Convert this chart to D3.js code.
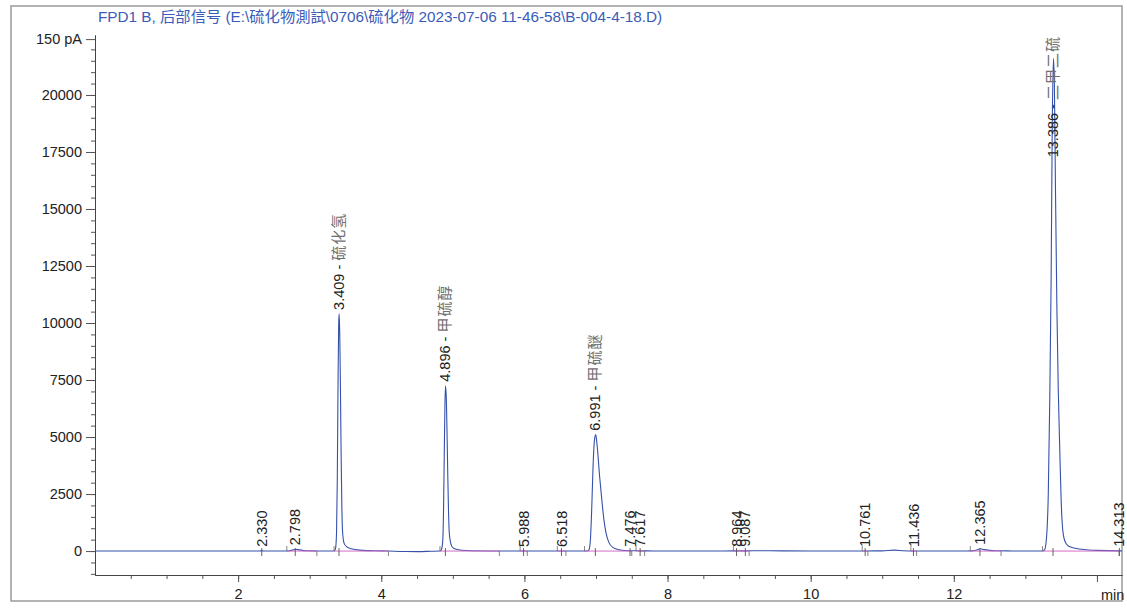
<!DOCTYPE html>
<html>
<head>
<meta charset="utf-8">
<script src="https://cdn.jsdelivr.net/npm/d3@7"></script>
<style>
  html, body { margin: 0; padding: 0; background: #fff; }
  svg { display: block; font-family: "Liberation Sans", Arial, "Noto Sans CJK SC", sans-serif; }
</style>
</head>
<body>
<svg id="chart" width="1127" height="609"></svg>
<script>
// ---------------- data ----------------
const titleText = "FPD1 B, 后部信号 (E:\\硫化物測試\\0706\\硫化物 2023-07-06 11-46-58\\B-004-4-18.D)";

// y axis ticks (signal) and labels
const yTickValues = [0, 2500, 5000, 7500, 10000, 12500, 15000, 17500, 20000, 22450];
const yTickLabels = ["0", "2500", "5000", "7500", "10000", "12500", "15000", "17500", "20000", "150 pA"];
const yMinorStep = 500;

// x axis ticks (minutes)
const xTickValues = [2, 4, 6, 8, 10, 12, 14];
const xTickLabels = ["2", "4", "6", "8", "10", "12", ""];
const xMinorStep = 0.5;
const xUnit = "min";

// chromatogram signal: [time (min), signal]
const signalTime = [
  0, 0.5, 1.0, 1.5, 2.0, 2.3, 2.33, 2.36, 2.6, 2.70, 2.76, 2.80, 2.86, 2.95, 3.1, 3.25,
  3.34, 3.36, 3.375, 3.385, 3.395, 3.405, 3.412, 3.42, 3.43, 3.44, 3.45, 3.46, 3.48, 3.52, 3.58, 3.7, 3.9,
  4.1, 4.3, 4.5, 4.7,
  4.82, 4.84, 4.86, 4.87, 4.88, 4.89, 4.898, 4.91, 4.92, 4.93, 4.94, 4.95, 4.97, 5.0, 5.06, 5.2,
  5.5, 5.8, 5.988, 6.2, 6.518, 6.7,
  6.88, 6.90, 6.92, 6.94, 6.96, 6.98, 6.995, 7.00, 7.02, 7.05, 7.08, 7.11, 7.14, 7.18, 7.24, 7.32,
  7.476, 7.617, 7.8, 8.2, 8.6, 8.964, 9.087, 9.3, 9.6, 10.0, 10.5, 10.761, 11.0, 11.17, 11.3, 11.436,
  11.8, 12.1, 12.25, 12.32, 12.37, 12.42, 12.5, 12.6, 12.8, 13.0, 13.2,
  13.24, 13.27, 13.30, 13.32, 13.34, 13.36, 13.375, 13.392, 13.405, 13.42, 13.44, 13.46, 13.48, 13.50,
  13.52, 13.55, 13.60, 13.70, 13.85, 14.0, 14.313, 14.35
];
const signalValue = [
  0, 0, 0, 0, 0, 5, 10, 5, 0, 5, 40, 80, 50, 15, 5, 0,
  0, 100, 800, 3000, 7000, 10000, 10400, 9500, 7000, 4000, 1800, 800, 350, 180, 100, 40, 15,
  5, -20, -25, -10,
  0, 60, 500, 1800, 4200, 6500, 7250, 6600, 5000, 3200, 1700, 800, 350, 150, 70, 25,
  5, 0, 5, 0, 5, 0,
  0, 40, 400, 1800, 3800, 4900, 5100, 5050, 4500, 3300, 2300, 1400, 800, 380, 150, 60,
  15, 10, 5, 0, 0, 10, 10, 15, 10, 0, 0, 5, 10, 40, 15, 5,
  0, 0, 10, 50, 100, 70, 30, 15, 5, 0, 0,
  0, 60, 800, 2500, 6500, 12000, 18500, 21600, 20500, 16000, 10700, 7000, 4500, 2200,
  1000, 450, 220, 120, 60, 30, 10, 10
];

// integrated peaks
const peakRT = [2.330, 2.798, 3.409, 4.896, 5.988, 6.518, 6.991, 7.476, 7.617, 8.964, 9.087, 10.761, 11.436, 12.365, 13.386, 14.313];
const peakHeight = [10, 80, 10400, 7250, 5, 5, 5100, 15, 10, 10, 10, 5, 5, 100, 21600, 10];
const peakName = ["", "", "硫化氢", "甲硫醇", "", "", "甲硫醚", "", "", "", "", "", "", "", "二甲二硫", ""];

// integration baselines (start / end, minutes)
const baseStart = [2.68, 3.34, 4.82, 5.94, 6.46, 6.84, 7.56, 8.92, 10.72, 11.40, 12.23, 13.24];
const baseEnd   = [3.10, 4.10, 5.65, 6.04, 6.58, 7.50, 7.68, 9.14, 10.80, 11.48, 12.66, 14.31];

// ---------------- drawing ----------------
const svg = d3.select("#chart");
const fontSize = 14.5;

const x = d3.scaleLinear().domain([0, 14.35]).range([95, 1122]);
const y = d3.scaleLinear().domain([-1050, 22630]).range([575, 35]);
const plotTop = y.range()[1];

// outer frame
svg.append("rect")
  .attr("x", 11).attr("y", 6).attr("width", 1111).attr("height", 595)
  .attr("fill", "none").attr("stroke", "#9a9a9a").attr("stroke-width", 1.5);

// title
svg.append("text")
  .attr("x", 98).attr("y", 22)
  .attr("font-size", 15.3).attr("fill", "#3a5cb8")
  .text(titleText);

// y axis minor ticks
const yMinor = d3.range(-1000, 22001, yMinorStep);
svg.append("g").attr("transform", `translate(${x(0)},0)`)
  .call(d3.axisLeft(y).tickValues(yMinor).tickSize(4).tickSizeOuter(0).tickFormat(""))
  .call(g => g.selectAll("line").attr("stroke", "#555"))
  .call(g => g.select(".domain").attr("stroke", "#444"));

// y axis major ticks
svg.append("g").attr("transform", `translate(${x(0)},0)`)
  .call(d3.axisLeft(y).tickValues(yTickValues).tickSize(9).tickSizeOuter(0).tickPadding(4)
    .tickFormat((d, i) => yTickLabels[i]))
  .call(g => g.select(".domain").attr("stroke", "#444"))
  .call(g => g.selectAll("line").attr("stroke", "#555"))
  .call(g => g.selectAll("text").attr("font-size", fontSize).attr("fill", "#222")
    .attr("font-family", "'Liberation Sans', Arial, sans-serif"));

// x axis minor ticks
const xMinor = d3.range(0.5, 14.3, xMinorStep);
svg.append("g").attr("transform", `translate(0,${y(-1050)})`)
  .call(d3.axisBottom(x).tickValues(xMinor).tickSize(4).tickSizeOuter(0).tickFormat(""))
  .call(g => g.selectAll("line").attr("stroke", "#555"))
  .call(g => g.select(".domain").attr("stroke", "#444"));

// x axis major ticks
svg.append("g").attr("transform", `translate(0,${y(-1050)})`)
  .call(d3.axisBottom(x).tickValues(xTickValues).tickSize(7).tickSizeOuter(0).tickPadding(7)
    .tickFormat((d, i) => xTickLabels[i]))
  .call(g => g.select(".domain").attr("stroke", "#444"))
  .call(g => g.selectAll("line").attr("stroke", "#555"))
  .call(g => g.selectAll("text").attr("font-size", fontSize).attr("fill", "#222")
    .attr("font-family", "'Liberation Sans', Arial, sans-serif"));

svg.append("text")
  .attr("x", x(14) + 4).attr("y", 599.5)
  .attr("font-size", fontSize).attr("fill", "#222")
  .text(xUnit);

// signal line
const signal = signalTime.map((t, i) => [t, signalValue[i]]);
const line = d3.line().x(d => x(d[0])).y(d => y(d[1])).curve(d3.curveMonotoneX);
svg.append("path")
  .datum(signal)
  .attr("d", line)
  .attr("fill", "none")
  .attr("stroke", "#3551aa")
  .attr("stroke-width", 1.1);

// integration baselines
const y0 = y(0);
const bl = svg.append("g");
baseStart.forEach((s, i) => {
  const e = baseEnd[i];
  bl.append("line")
    .attr("x1", x(s)).attr("x2", x(e)).attr("y1", y0).attr("y2", y0)
    .attr("stroke", "#d46cc4").attr("stroke-width", 1);
  bl.append("line")
    .attr("x1", x(s)).attr("x2", x(s)).attr("y1", y0 - 5).attr("y2", y0)
    .attr("stroke", "#666").attr("stroke-width", 0.8);
  bl.append("line")
    .attr("x1", x(e)).attr("x2", x(e)).attr("y1", y0).attr("y2", y0 + 5)
    .attr("stroke", "#666").attr("stroke-width", 0.8);
});

// peak retention time markers and labels
const fmt = d3.format(".3f");
const lab = svg.append("g");
peakRT.forEach((rt, i) => {
  const px = x(rt);
  lab.append("line")
    .attr("x1", px).attr("x2", px).attr("y1", y0 - 3).attr("y2", y0 + 5)
    .attr("stroke", "#555").attr("stroke-width", 0.9);
  const t = lab.append("text")
    .attr("font-size", fontSize)
    .attr("text-anchor", "start")
    .attr("dy", "0.35em");
  t.append("tspan").attr("fill", "#222").text(fmt(rt) + (peakName[i] ? " - " : ""));
  if (peakName[i]) {
    t.append("tspan").attr("fill", "#707070")
      .attr("font-family", "'Noto Sans CJK SC', sans-serif")
      .attr("font-size", 15)
      .attr("letter-spacing", 1)
      .text(" " + peakName[i]);
  }
  const len = t.node().getComputedTextLength();
  let startY = Math.min(y(peakHeight[i]), y0) - 4;
  startY = Math.max(startY, plotTop + len + 1);
  t.attr("transform", `translate(${px},${startY}) rotate(-90)`);
});
</script>
</body>
</html>
